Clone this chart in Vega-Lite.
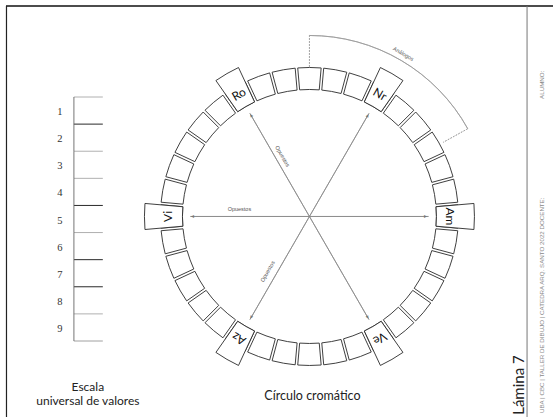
{
  "$schema": "https://vega.github.io/schema/vega-lite/v6.json",
  "width": 554,
  "height": 418,
  "autosize": {"type": "fit", "contains": "padding"},
  "padding": 0,
  "background": "white",
  "config": {"view": {"stroke": null}, "axis": {"disable": true}, "legend": {"disable": true}},
  "resolve": {"scale": {"theta": "independent", "y": "independent"}},
  "datasets": {
    "celdas": [
      {"celda": 0, "tono": ""}, {"celda": 1, "tono": ""}, {"celda": 2, "tono": ""}, {"celda": 3, "tono": "Nr"},
      {"celda": 4, "tono": ""}, {"celda": 5, "tono": ""}, {"celda": 6, "tono": ""}, {"celda": 7, "tono": ""},
      {"celda": 8, "tono": ""}, {"celda": 9, "tono": "Am"}, {"celda": 10, "tono": ""}, {"celda": 11, "tono": ""},
      {"celda": 12, "tono": ""}, {"celda": 13, "tono": ""}, {"celda": 14, "tono": ""}, {"celda": 15, "tono": "Ve"},
      {"celda": 16, "tono": ""}, {"celda": 17, "tono": ""}, {"celda": 18, "tono": ""}, {"celda": 19, "tono": ""},
      {"celda": 20, "tono": ""}, {"celda": 21, "tono": "Az"}, {"celda": 22, "tono": ""}, {"celda": 23, "tono": ""},
      {"celda": 24, "tono": ""}, {"celda": 25, "tono": ""}, {"celda": 26, "tono": ""}, {"celda": 27, "tono": "Vi"},
      {"celda": 28, "tono": ""}, {"celda": 29, "tono": ""}, {"celda": 30, "tono": ""}, {"celda": 31, "tono": ""},
      {"celda": 32, "tono": ""}, {"celda": 33, "tono": "Ro"}, {"celda": 34, "tono": ""}, {"celda": 35, "tono": ""}
    ],
    "tonos": [
      {"tono": "Nr", "grado": 30}, {"tono": "Am", "grado": 90}, {"tono": "Ve", "grado": 150},
      {"tono": "Az", "grado": 210}, {"tono": "Vi", "grado": 270}, {"tono": "Ro", "grado": 330}
    ],
    "valores": [
      {"valor": 1}, {"valor": 2}, {"valor": 3}, {"valor": 4}, {"valor": 5},
      {"valor": 6}, {"valor": 7}, {"valor": 8}, {"valor": 9}
    ],
    "marco": [{"elemento": "marco"}]
  },
  "layer": [
    {
      "data": {"name": "marco"},
      "mark": {"type": "rule", "color": "#111", "strokeWidth": 1.6},
      "encoding": {
        "x": {"datum": 6, "type": "quantitative", "scale": {"domain": [0, 554], "nice": false, "zero": false}},
        "x2": {"datum": 554},
        "y": {"datum": 6, "type": "quantitative", "scale": {"domain": [0, 418], "reverse": true, "nice": false, "zero": false}}
      }
    },
    {
      "data": {"name": "marco"},
      "mark": {"type": "rule", "color": "#222", "strokeWidth": 1.2},
      "encoding": {
        "x": {"datum": 6.5, "type": "quantitative", "scale": {"domain": [0, 554], "nice": false, "zero": false}},
        "y": {"datum": 6, "type": "quantitative", "scale": {"domain": [0, 418], "reverse": true, "nice": false, "zero": false}},
        "y2": {"datum": 418}
      }
    },
    {
      "data": {"name": "marco"},
      "mark": {"type": "rule", "color": "#777", "strokeWidth": 1},
      "encoding": {
        "x": {"datum": 528, "type": "quantitative", "scale": {"domain": [0, 554], "nice": false, "zero": false}},
        "y": {"datum": 6, "type": "quantitative", "scale": {"domain": [0, 418], "reverse": true, "nice": false, "zero": false}},
        "y2": {"datum": 418}
      }
    },
    {
      "data": {"name": "valores"},
      "mark": {"type": "rule", "strokeWidth": 1},
      "encoding": {
        "x": {"datum": 74, "type": "quantitative", "scale": {"domain": [0, 554], "nice": false, "zero": false}},
        "x2": {"datum": 103},
        "y": {"field": "valor", "type": "ordinal", "bandPosition": 0, "scale": {"type": "band", "domain": [1, 2, 3, 4, 5, 6, 7, 8, 9], "range": [97, 341], "paddingInner": 0, "paddingOuter": 0}},
        "color": {"condition": {"test": "indexof([2, 5, 7, 8], datum.valor) >= 0", "value": "#2a2a2a"}, "value": "#b0b0b0"}
      }
    },
    {
      "data": {"name": "valores"},
      "transform": [{"filter": "datum.valor == 9"}],
      "mark": {"type": "rule", "strokeWidth": 1, "color": "#a0a0a0"},
      "encoding": {
        "x": {"datum": 74, "type": "quantitative", "scale": {"domain": [0, 554], "nice": false, "zero": false}},
        "x2": {"datum": 103},
        "y": {"field": "valor", "type": "ordinal", "bandPosition": 1, "scale": {"type": "band", "domain": [1, 2, 3, 4, 5, 6, 7, 8, 9], "range": [97, 341], "paddingInner": 0, "paddingOuter": 0}}
      }
    },
    {
      "data": {"name": "valores"},
      "mark": {"type": "rect", "color": "#666"},
      "encoding": {
        "x": {"datum": 73.6, "type": "quantitative", "scale": {"domain": [0, 554], "nice": false, "zero": false}},
        "x2": {"datum": 74.5},
        "y": {"field": "valor", "type": "ordinal", "scale": {"type": "band", "domain": [1, 2, 3, 4, 5, 6, 7, 8, 9], "range": [97, 341], "paddingInner": 0, "paddingOuter": 0}}
      }
    },
    {
      "data": {"name": "valores"},
      "mark": {"type": "text", "font": "Liberation Serif", "fontSize": 10.5, "color": "#333", "baseline": "middle", "align": "center", "dy": 1.5},
      "encoding": {
        "x": {"datum": 60, "type": "quantitative", "scale": {"domain": [0, 554], "nice": false, "zero": false}},
        "y": {"field": "valor", "type": "ordinal", "scale": {"type": "band", "domain": [1, 2, 3, 4, 5, 6, 7, 8, 9], "range": [97, 341], "paddingInner": 0, "paddingOuter": 0}},
        "text": {"field": "valor", "type": "ordinal"}
      }
    },
    {
      "data": {"values": [{"texto": "Escala"}]},
      "mark": {"type": "text", "font": "Lato", "fontSize": 12, "color": "#222", "baseline": "middle", "align": "center"},
      "encoding": {
        "x": {"datum": 88, "type": "quantitative", "scale": {"domain": [0, 554], "nice": false, "zero": false}},
        "y": {"datum": 388, "type": "quantitative", "scale": {"domain": [0, 418], "reverse": true, "nice": false, "zero": false}},
        "text": {"field": "texto"}
      }
    },
    {
      "data": {"values": [{"texto": "universal de valores"}]},
      "mark": {"type": "text", "font": "Lato", "fontSize": 12, "color": "#222", "baseline": "middle", "align": "center"},
      "encoding": {
        "x": {"datum": 88, "type": "quantitative", "scale": {"domain": [0, 554], "nice": false, "zero": false}},
        "y": {"datum": 402, "type": "quantitative", "scale": {"domain": [0, 418], "reverse": true, "nice": false, "zero": false}},
        "text": {"field": "texto"}
      }
    },
    {
      "data": {"name": "celdas"},
      "mark": {"type": "arc", "innerRadius": 127, "outerRadius": 149, "padAngle": 0.013, "fill": "white", "stroke": "#2a2a2a", "strokeWidth": 0.9},
      "encoding": {
        "x": {"datum": 310, "type": "quantitative", "scale": {"domain": [0, 554], "nice": false, "zero": false}},
        "y": {"datum": 217, "type": "quantitative", "scale": {"domain": [0, 418], "reverse": true, "nice": false, "zero": false}},
        "theta": {"aggregate": "count", "type": "quantitative", "stack": true, "scale": {"domain": [0, 36], "range": [-0.0872665, 6.1959188]}},
        "order": {"field": "celda", "type": "quantitative"},
        "detail": [{"field": "celda", "type": "quantitative"}, {"field": "tono", "type": "nominal"}]
      }
    },
    {
      "data": {"name": "celdas"},
      "mark": {"type": "arc", "innerRadius": 127, "outerRadius": 165, "padAngle": 0.013, "fill": "white", "stroke": "#2a2a2a", "strokeWidth": 0.9},
      "encoding": {
        "x": {"datum": 310, "type": "quantitative", "scale": {"domain": [0, 554], "nice": false, "zero": false}},
        "y": {"datum": 217, "type": "quantitative", "scale": {"domain": [0, 418], "reverse": true, "nice": false, "zero": false}},
        "theta": {"aggregate": "count", "type": "quantitative", "stack": true, "scale": {"domain": [0, 36], "range": [-0.0872665, 6.1959188]}},
        "order": {"field": "celda", "type": "quantitative"},
        "detail": [{"field": "celda", "type": "quantitative"}, {"field": "tono", "type": "nominal"}],
        "opacity": {"condition": {"test": "datum.tono !== ''", "value": 1}, "value": 0}
      }
    },
    {
      "data": {"name": "tonos"},
      "mark": {"type": "arc", "innerRadius": 0, "outerRadius": 119, "filled": false, "color": "#8a8a8a", "strokeWidth": 0.8},
      "encoding": {
        "x": {"datum": 310, "type": "quantitative", "scale": {"domain": [0, 554], "nice": false, "zero": false}},
        "y": {"datum": 217, "type": "quantitative", "scale": {"domain": [0, 418], "reverse": true, "nice": false, "zero": false}},
        "theta": {"field": "grado", "type": "quantitative", "scale": {"domain": [0, 360], "range": [0, 6.2831853]}},
        "theta2": {"field": "grado"}
      }
    },
    {
      "data": {"name": "tonos"},
      "mark": {"type": "text", "text": "▲", "radius": 117, "fontSize": 5, "color": "#777", "baseline": "middle", "align": "center"},
      "encoding": {
        "x": {"datum": 310, "type": "quantitative", "scale": {"domain": [0, 554], "nice": false, "zero": false}},
        "y": {"datum": 217, "type": "quantitative", "scale": {"domain": [0, 418], "reverse": true, "nice": false, "zero": false}},
        "theta": {"field": "grado", "type": "quantitative", "scale": {"domain": [0, 360], "range": [0, 6.2831853]}},
        "angle": {"field": "grado", "type": "quantitative", "scale": {"domain": [0, 360], "range": [0, 360]}, "legend": null}
      }
    },
    {
      "data": {"name": "tonos"},
      "mark": {"type": "text", "radius": 141, "font": "Lato", "fontSize": 12, "color": "#111", "baseline": "middle", "align": "center"},
      "encoding": {
        "x": {"datum": 310, "type": "quantitative", "scale": {"domain": [0, 554], "nice": false, "zero": false}},
        "y": {"datum": 217, "type": "quantitative", "scale": {"domain": [0, 418], "reverse": true, "nice": false, "zero": false}},
        "theta": {"field": "grado", "type": "quantitative", "scale": {"domain": [0, 360], "range": [0, 6.2831853]}},
        "angle": {"field": "grado", "type": "quantitative", "scale": {"domain": [0, 360], "range": [0, 360]}, "legend": null},
        "text": {"field": "tono"}
      }
    },
    {
      "data": {"values": [{"relacion": "Análogos"}]},
      "mark": {"type": "arc", "innerRadius": 181, "outerRadius": 181, "filled": false, "color": "#9a9a9a", "strokeWidth": 0.8},
      "encoding": {
        "x": {"datum": 310, "type": "quantitative", "scale": {"domain": [0, 554], "nice": false, "zero": false}},
        "y": {"datum": 217, "type": "quantitative", "scale": {"domain": [0, 418], "reverse": true, "nice": false, "zero": false}},
        "theta": {"datum": 0, "type": "quantitative", "scale": {"domain": [0, 360], "range": [0, 6.2831853]}},
        "theta2": {"datum": 61}
      }
    },
    {
      "data": {"values": [{"relacion": "Análogos"}]},
      "mark": {"type": "arc", "innerRadius": 149, "outerRadius": 181, "filled": false, "color": "#9a9a9a", "strokeWidth": 0.8, "strokeDash": [1.5, 1.5]},
      "encoding": {
        "x": {"datum": 310, "type": "quantitative", "scale": {"domain": [0, 554], "nice": false, "zero": false}},
        "y": {"datum": 217, "type": "quantitative", "scale": {"domain": [0, 418], "reverse": true, "nice": false, "zero": false}},
        "theta": {"datum": 0, "type": "quantitative", "scale": {"domain": [0, 360], "range": [0, 6.2831853]}},
        "theta2": {"datum": 0}
      }
    },
    {
      "data": {"values": [{"relacion": "Análogos"}]},
      "mark": {"type": "arc", "innerRadius": 153, "outerRadius": 181, "filled": false, "color": "#9a9a9a", "strokeWidth": 0.8, "strokeDash": [1.5, 1.5]},
      "encoding": {
        "x": {"datum": 310, "type": "quantitative", "scale": {"domain": [0, 554], "nice": false, "zero": false}},
        "y": {"datum": 217, "type": "quantitative", "scale": {"domain": [0, 418], "reverse": true, "nice": false, "zero": false}},
        "theta": {"datum": 61, "type": "quantitative", "scale": {"domain": [0, 360], "range": [0, 6.2831853]}},
        "theta2": {"datum": 61}
      }
    },
    {
      "data": {"values": [{"relacion": "Análogos"}]},
      "mark": {"type": "text", "radius": 188, "angle": 30, "font": "Liberation Sans", "fontSize": 5.5, "color": "#555", "baseline": "middle", "align": "center"},
      "encoding": {
        "x": {"datum": 310, "type": "quantitative", "scale": {"domain": [0, 554], "nice": false, "zero": false}},
        "y": {"datum": 217, "type": "quantitative", "scale": {"domain": [0, 418], "reverse": true, "nice": false, "zero": false}},
        "theta": {"datum": 30, "type": "quantitative", "scale": {"domain": [0, 360], "range": [0, 6.2831853]}},
        "text": {"field": "relacion"}
      }
    },
    {
      "data": {"values": [{"relacion": "Opuestos"}]},
      "mark": {"type": "text", "radius": 70.5, "angle": 0, "font": "Liberation Sans", "fontSize": 5.5, "color": "#555", "baseline": "middle", "align": "center"},
      "encoding": {
        "x": {"datum": 310, "type": "quantitative", "scale": {"domain": [0, 554], "nice": false, "zero": false}},
        "y": {"datum": 217, "type": "quantitative", "scale": {"domain": [0, 418], "reverse": true, "nice": false, "zero": false}},
        "theta": {"datum": 276.5, "type": "quantitative", "scale": {"domain": [0, 360], "range": [0, 6.2831853]}},
        "text": {"field": "relacion"}
      }
    },
    {
      "data": {"values": [{"relacion": "Opuestos"}]},
      "mark": {"type": "text", "radius": 66, "angle": 60, "font": "Liberation Sans", "fontSize": 5.5, "color": "#555", "baseline": "middle", "align": "center"},
      "encoding": {
        "x": {"datum": 310, "type": "quantitative", "scale": {"domain": [0, 554], "nice": false, "zero": false}},
        "y": {"datum": 217, "type": "quantitative", "scale": {"domain": [0, 418], "reverse": true, "nice": false, "zero": false}},
        "theta": {"datum": 336, "type": "quantitative", "scale": {"domain": [0, 360], "range": [0, 6.2831853]}},
        "text": {"field": "relacion"}
      }
    },
    {
      "data": {"values": [{"relacion": "Opuestos"}]},
      "mark": {"type": "text", "radius": 69, "angle": 300, "font": "Liberation Sans", "fontSize": 5.5, "color": "#555", "baseline": "middle", "align": "center"},
      "encoding": {
        "x": {"datum": 310, "type": "quantitative", "scale": {"domain": [0, 554], "nice": false, "zero": false}},
        "y": {"datum": 217, "type": "quantitative", "scale": {"domain": [0, 418], "reverse": true, "nice": false, "zero": false}},
        "theta": {"datum": 217.4, "type": "quantitative", "scale": {"domain": [0, 360], "range": [0, 6.2831853]}},
        "text": {"field": "relacion"}
      }
    },
    {
      "data": {"values": [{"texto": "Círculo cromático"}]},
      "mark": {"type": "text", "font": "Lato", "fontSize": 12.5, "color": "#222", "baseline": "middle", "align": "center"},
      "encoding": {
        "x": {"datum": 313, "type": "quantitative", "scale": {"domain": [0, 554], "nice": false, "zero": false}},
        "y": {"datum": 397, "type": "quantitative", "scale": {"domain": [0, 418], "reverse": true, "nice": false, "zero": false}},
        "text": {"field": "texto"}
      }
    },
    {
      "data": {"values": [{"texto": "Lámina 7"}]},
      "mark": {"type": "text", "font": "Lato", "fontSize": 15, "color": "#222", "baseline": "middle", "align": "center", "angle": 270},
      "encoding": {
        "x": {"datum": 520, "type": "quantitative", "scale": {"domain": [0, 554], "nice": false, "zero": false}},
        "y": {"datum": 386, "type": "quantitative", "scale": {"domain": [0, 418], "reverse": true, "nice": false, "zero": false}},
        "text": {"field": "texto"}
      }
    },
    {
      "data": {"values": [{"texto": "UBA | CBC | TALLER DE DIBUJO | CATEDRA ARQ. SANTO 2022    DOCENTE:"}]},
      "mark": {"type": "text", "font": "Liberation Sans", "fontSize": 6.2, "color": "#888", "baseline": "middle", "align": "left", "angle": 270},
      "encoding": {
        "x": {"datum": 543, "type": "quantitative", "scale": {"domain": [0, 554], "nice": false, "zero": false}},
        "y": {"datum": 414, "type": "quantitative", "scale": {"domain": [0, 418], "reverse": true, "nice": false, "zero": false}},
        "text": {"field": "texto"}
      }
    },
    {
      "data": {"values": [{"texto": "ALUMNO:"}]},
      "mark": {"type": "text", "font": "Liberation Sans", "fontSize": 6.2, "color": "#888", "baseline": "middle", "align": "center", "angle": 270},
      "encoding": {
        "x": {"datum": 543, "type": "quantitative", "scale": {"domain": [0, 554], "nice": false, "zero": false}},
        "y": {"datum": 85, "type": "quantitative", "scale": {"domain": [0, 418], "reverse": true, "nice": false, "zero": false}},
        "text": {"field": "texto"}
      }
    }
  ]
}
